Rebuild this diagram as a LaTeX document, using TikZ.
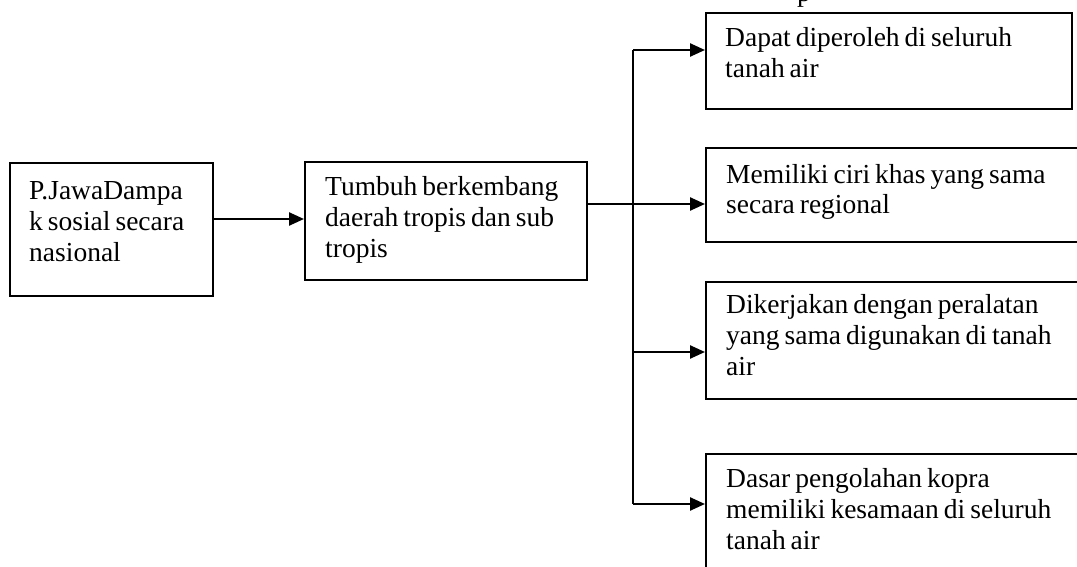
\documentclass[tikz,border=0pt]{standalone}
\usepackage{fontspec}
\setmainfont{Liberation Serif}
\usetikzlibrary{arrows.meta}
\newcommand{\mylines}[1]{{\spaceskip=5pt plus 1pt minus 1pt\relax
  \begin{tabular}[t]{@{}l@{}}#1\end{tabular}}}
\begin{document}
\begin{tikzpicture}[x=1pt,y=-1pt,
  boxstyle/.style={draw=black,line width=2.2pt,fill=none,inner sep=0pt,anchor=north west},
  txt/.style={anchor=base west,inner sep=0pt,font=\fontsize{27.5}{31}\selectfont},
  arr/.style={line width=2.4pt,-{Triangle[length=15pt,width=13pt]}},
  ln/.style={line width=2.4pt}]
\useasboundingbox (0,0) rectangle (1077,567);
\clip (0,0) rectangle (1077,567);
% boxes
\node[boxstyle,minimum width=203pt,minimum height=133pt] (b1) at (9,162) {};
\node[boxstyle,minimum width=282pt,minimum height=118pt] (b2) at (304,161) {};
\node[boxstyle,minimum width=366pt,minimum height=96pt] (bA) at (705,12) {};
\node[boxstyle,minimum width=400pt,minimum height=94pt] (bB) at (705,147) {};
\node[boxstyle,minimum width=400pt,minimum height=117pt] (bC) at (705,281) {};
\node[boxstyle,minimum width=400pt,minimum height=140pt] (bD) at (705,453) {};
% texts
\node[txt] (t1) at (29,200) {\mylines{P.JawaDampa\\k sosial secara\\nasional}};
\node[txt] (t2) at (325,196) {\mylines{Tumbuh berkembang\\daerah tropis dan sub\\tropis}};
\node[txt] (tA) at (725,47) {\mylines{Dapat diperoleh di seluruh\\tanah air}};
\node[txt] (tB) at (726,183) {\mylines{Memiliki ciri khas yang sama\\secara regional}};
\node[txt] (tC) at (726,313) {\mylines{Dikerjakan dengan peralatan\\yang sama digunakan di tanah\\air}};
\node[txt] (tD) at (726,487) {\mylines{Dasar pengolahan kopra\\memiliki kesamaan di seluruh\\tanah air}};
\node[txt] (tp) at (797,2) {p};
% connector coordinates
\coordinate (y1) at (0,219);
\coordinate (trunkTop) at (633,50);
\coordinate (trunkBot) at (633,504);
\coordinate (yB) at (0,204);
\coordinate (yC) at (633,352);
% connectors
\draw[arr] (b1.east |- y1) -- (b2.west |- y1);
\draw[arr] (b2.east |- yB) -- (bB.west |- yB);
\draw[ln] (trunkTop) -- (trunkBot);
\draw[arr] (trunkTop) -- (bA.west |- trunkTop);
\draw[arr] (yC) -- (bC.west |- yC);
\draw[arr] (trunkBot) -- (bD.west |- trunkBot);
\end{tikzpicture}
\end{document}
